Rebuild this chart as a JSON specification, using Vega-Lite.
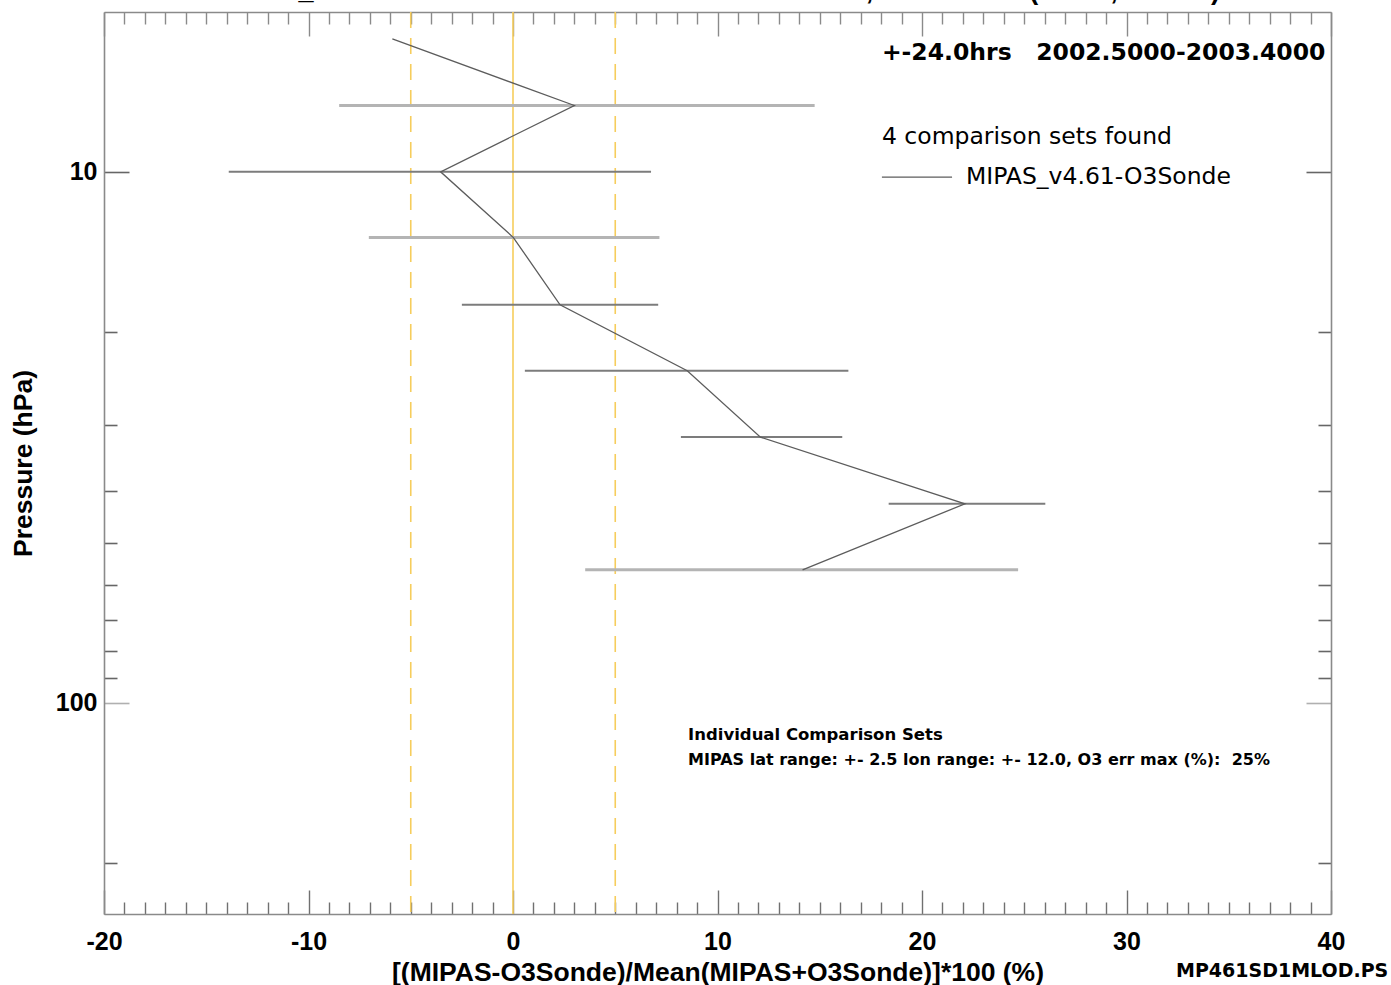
{
  "$schema": "https://vega.github.io/schema/vega-lite/v6.json",
  "width": 1227,
  "height": 902,
  "autosize": {"type": "none"},
  "padding": {"left": 104, "top": 12, "right": 60, "bottom": 71},
  "background": "white",
  "config": {"view": {"stroke": null}, "font": "Liberation Sans"},
  "title": {
    "text": "MIPAS_v4.61-O3Sonde Ozone Difference vs Sonde, Mauna Loa (19.5N, 204.4E)",
    "font": "Liberation Sans", "fontSize": 27, "fontWeight": "bold", "color": "black",
    "anchor": "middle", "baseline": "alphabetic", "offset": 0, "dy": 15
  },
  "data": {
    "values": [
      {"p": 5.62, "diff": -5.9, "lo": null, "hi": null, "grp": null},
      {"p": 7.5, "diff": 3.0, "lo": -8.5, "hi": 14.75, "grp": "a"},
      {"p": 10.0, "diff": -3.54, "lo": -13.9, "hi": 6.75, "grp": "b"},
      {"p": 13.3, "diff": 0.02, "lo": -7.05, "hi": 7.16, "grp": "a"},
      {"p": 17.8, "diff": 2.3, "lo": -2.5, "hi": 7.1, "grp": "b"},
      {"p": 23.7, "diff": 8.52, "lo": 0.58, "hi": 16.4, "grp": "b"},
      {"p": 31.6, "diff": 12.1, "lo": 8.21, "hi": 16.1, "grp": "b"},
      {"p": 42.2, "diff": 22.1, "lo": 18.37, "hi": 26.03, "grp": "b"},
      {"p": 56.2, "diff": 14.16, "lo": 3.53, "hi": 24.7, "grp": "a"}
    ]
  },
  "layer": [
    {
      "data": {"values": [{"v": 0}]},
      "mark": {"type": "rule", "color": "#f6cd5c", "strokeWidth": 1.6},
      "encoding": {"x": {"field": "v", "type": "quantitative", "axis": null}}
    },
    {
      "data": {"values": [{"v": -5}, {"v": 5}]},
      "mark": {"type": "rule", "color": "#f6cd5c", "strokeWidth": 1.6, "strokeDash": [16, 10]},
      "encoding": {"x": {"field": "v", "type": "quantitative", "axis": null}}
    },
    {
      "transform": [{"filter": "isValid(datum.lo)"}],
      "mark": {"type": "rule"},
      "encoding": {
        "y": {
          "field": "p", "type": "quantitative",
          "scale": {"type": "log", "domain": [5, 250], "reverse": true, "nice": false},
          "axis": {
            "orient": "left", "values": [10, 20, 30, 40, 50, 60, 70, 80, 90, 100, 200],
            "tickSize": {"condition": {"test": "datum.value === 10 || datum.value === 100", "value": -25}, "value": -13},
            "tickColor": {"condition": {"test": "datum.value === 100", "value": "#b0b0b0"}, "value": "#666666"},
            "tickWidth": 1.6,
            "labelExpr": "datum.value === 10 || datum.value === 100 ? '' + datum.value : ''",
            "labelFont": "Liberation Sans", "labelFontWeight": "bold", "labelFontSize": 25, "labelColor": "black",
            "labelPadding": 32, "labelOverlap": false, "labelBound": false,
            "domainColor": "#8a8a8a", "domainWidth": 1.6, "grid": false,
            "title": "Pressure (hPa)", "titleFont": "Liberation Sans", "titleFontSize": 26.5,
            "titleFontWeight": "bold", "titleColor": "black", "titlePadding": 18
          }
        },
        "x": {
          "field": "lo", "type": "quantitative",
          "scale": {"domain": [-20, 40], "nice": false, "zero": false},
          "axis": {
            "orient": "bottom",
            "values": [-20,-19,-18,-17,-16,-15,-14,-13,-12,-11,-10,-9,-8,-7,-6,-5,-4,-3,-2,-1,0,1,2,3,4,5,6,7,8,9,10,11,12,13,14,15,16,17,18,19,20,21,22,23,24,25,26,27,28,29,30,31,32,33,34,35,36,37,38,39,40],
            "tickSize": {"condition": {"test": "datum.value % 10 === 0", "value": -24}, "value": -12},
            "tickColor": "#707070", "tickWidth": 1.4,
            "labelExpr": "datum.value % 10 === 0 ? '' + datum.value : ''",
            "labelFont": "Liberation Sans", "labelFontWeight": "bold", "labelFontSize": 25, "labelColor": "black",
            "labelPadding": 39, "labelOverlap": false, "labelFlush": false, "labelBound": false,
            "domainColor": "#8a8a8a", "domainWidth": 1.6, "grid": false,
            "title": "[(MIPAS-O3Sonde)/Mean(MIPAS+O3Sonde)]*100 (%)", "titleFont": "Liberation Sans",
            "titleFontSize": 26.5, "titleFontWeight": "bold", "titleColor": "black", "titlePadding": -7
          }
        },
        "x2": {"field": "hi"},
        "color": {"field": "grp", "type": "nominal", "scale": {"domain": ["a", "b"], "range": ["#b4b4b4", "#7c7c7c"]}, "legend": null},
        "strokeWidth": {"field": "grp", "type": "nominal", "scale": {"domain": ["a", "b"], "range": [3, 2]}, "legend": null}
      }
    },
    {
      "mark": {"type": "line", "color": "#5c5c5c", "strokeWidth": 1.3},
      "encoding": {
        "y": {
          "field": "p", "type": "quantitative",
          "scale": {"type": "log", "domain": [5, 250], "reverse": true, "nice": false},
          "axis": {
            "orient": "right", "values": [10, 20, 30, 40, 50, 60, 70, 80, 90, 100, 200],
            "tickSize": {"condition": {"test": "datum.value === 10 || datum.value === 100", "value": -25}, "value": -13},
            "tickColor": {"condition": {"test": "datum.value === 100", "value": "#b0b0b0"}, "value": "#666666"},
            "tickWidth": 1.6, "labels": false, "title": null,
            "domainColor": "#8a8a8a", "domainWidth": 1.6, "grid": false
          }
        },
        "x": {
          "field": "diff", "type": "quantitative",
          "scale": {"domain": [-20, 40], "nice": false, "zero": false},
          "axis": {
            "orient": "top",
            "values": [-20,-19,-18,-17,-16,-15,-14,-13,-12,-11,-10,-9,-8,-7,-6,-5,-4,-3,-2,-1,0,1,2,3,4,5,6,7,8,9,10,11,12,13,14,15,16,17,18,19,20,21,22,23,24,25,26,27,28,29,30,31,32,33,34,35,36,37,38,39,40],
            "tickSize": {"condition": {"test": "datum.value % 10 === 0", "value": -24}, "value": -12},
            "tickColor": "#8a8a8a", "tickWidth": 1.4, "labels": false, "title": null,
            "domainColor": "#8a8a8a", "domainWidth": 1.6, "grid": false
          }
        },
        "order": {"field": "p", "type": "quantitative"}
      }
    },
    {
      "data": {"values": [{"label": "legend"}]},
      "mark": {"type": "rule", "color": "#5c5c5c", "strokeWidth": 1.2},
      "encoding": {
        "x": {"datum": 18.04, "type": "quantitative", "axis": null},
        "x2": {"datum": 21.47},
        "y": {"datum": 10.23, "type": "quantitative", "axis": null}
      }
    },
    {
      "data": {"values": [{"t": "+-24.0hrs\u00a0\u00a0\u00a02002.5000-2003.4000"}]},
      "mark": {"type": "text", "align": "left", "baseline": "middle", "font": "DejaVu Sans", "fontWeight": "bold", "fontSize": 23.5, "color": "black"},
      "encoding": {
        "text": {"field": "t"},
        "x": {"datum": 18.04, "type": "quantitative", "axis": null},
        "y": {"datum": 5.97, "type": "quantitative", "axis": null}
      }
    },
    {
      "data": {"values": [{"t": "4 comparison sets found"}]},
      "mark": {"type": "text", "align": "left", "baseline": "middle", "font": "DejaVu Sans", "fontSize": 23.5, "color": "black"},
      "encoding": {
        "text": {"field": "t"},
        "x": {"datum": 18.04, "type": "quantitative", "axis": null},
        "y": {"datum": 8.6, "type": "quantitative", "axis": null}
      }
    },
    {
      "data": {"values": [{"t": "MIPAS_v4.61-O3Sonde"}]},
      "mark": {"type": "text", "align": "left", "baseline": "middle", "font": "DejaVu Sans", "fontSize": 23.5, "color": "black"},
      "encoding": {
        "text": {"field": "t"},
        "x": {"datum": 22.15, "type": "quantitative", "axis": null},
        "y": {"datum": 10.23, "type": "quantitative", "axis": null}
      }
    },
    {
      "data": {"values": [{"t": "Individual Comparison Sets"}]},
      "mark": {"type": "text", "align": "left", "baseline": "middle", "font": "DejaVu Sans", "fontWeight": "bold", "fontSize": 16.5, "color": "black"},
      "encoding": {
        "text": {"field": "t"},
        "x": {"datum": 8.56, "type": "quantitative", "axis": null},
        "y": {"datum": 115.0, "type": "quantitative", "axis": null}
      }
    },
    {
      "data": {"values": [{"t": "MIPAS lat range: +- 2.5 lon range: +- 12.0, O3 err max (%):\u00a0 25%"}]},
      "mark": {"type": "text", "align": "left", "baseline": "middle", "font": "DejaVu Sans", "fontWeight": "bold", "fontSize": 16, "color": "black"},
      "encoding": {
        "text": {"field": "t"},
        "x": {"datum": 8.56, "type": "quantitative", "axis": null},
        "y": {"datum": 128.2, "type": "quantitative", "axis": null}
      }
    },
    {
      "data": {"values": [{"t": "MP461SD1MLOD.PS"}]},
      "mark": {"type": "text", "align": "left", "baseline": "middle", "font": "DejaVu Sans", "fontWeight": "bold", "fontSize": 19, "color": "black"},
      "encoding": {
        "text": {"field": "t"},
        "x": {"datum": 32.42, "type": "quantitative", "axis": null},
        "y": {"datum": 320.2, "type": "quantitative", "axis": null}
      }
    }
  ],
  "resolve": {"axis": {"x": "independent", "y": "independent"}}
}
